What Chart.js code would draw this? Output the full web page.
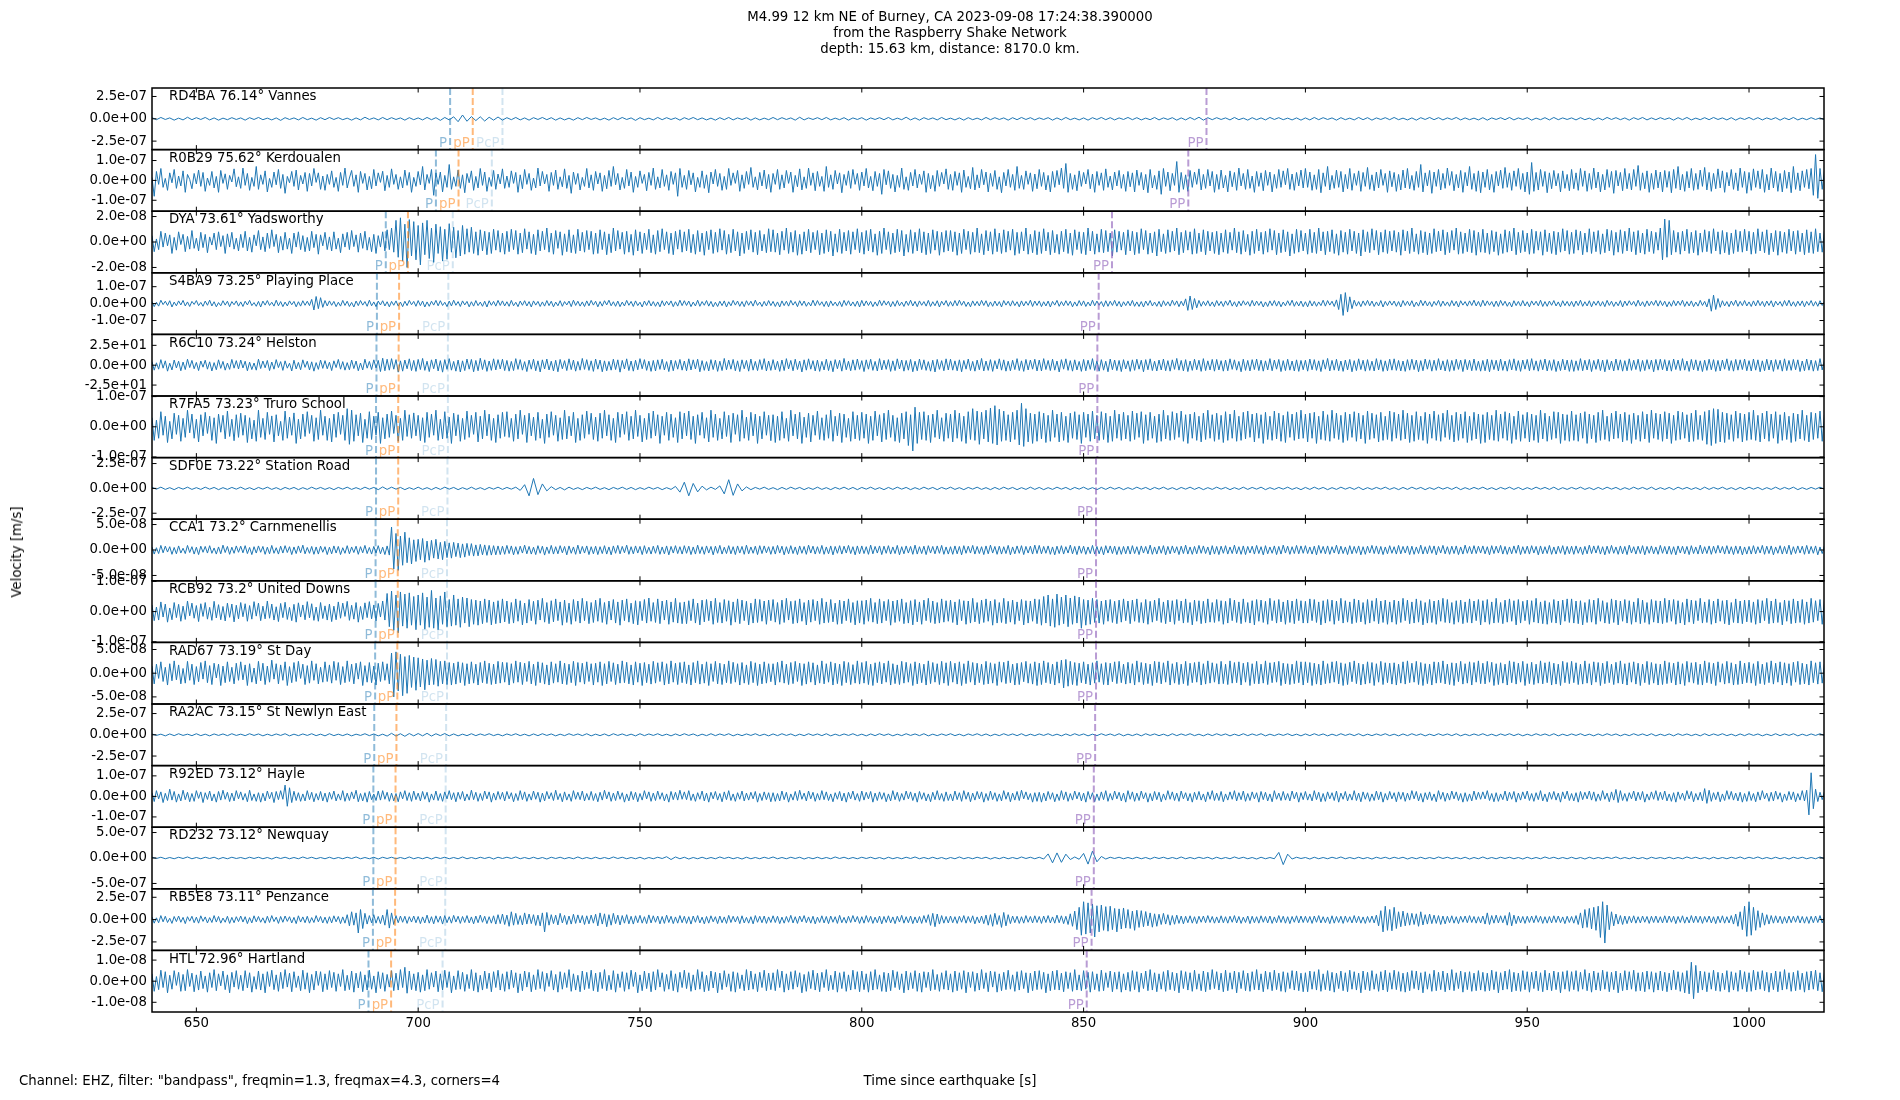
<!DOCTYPE html>
<html>
<head>
<meta charset="utf-8">
<script src="https://cdn.jsdelivr.net/npm/chart.js@4.4.0/dist/chart.umd.min.js"></script>
<style>
  body { margin: 0; background: #fff; }
  #wrap { position: relative; width: 1900px; height: 1100px; font-family: "DejaVu Sans", sans-serif; font-size: 13.3px; color: #000; }
  #wrap canvas { position: absolute; left: 0; top: 0; }
  .txt { position: absolute; line-height: 16px; white-space: nowrap; }
</style>
</head>
<body>
<div id="wrap">
  <canvas id="seis" width="1900" height="1100"></canvas>
  <div class="txt" style="left:0;width:1900px;top:9px;text-align:center;">M4.99 12 km NE of Burney, CA 2023-09-08 17:24:38.390000<br>from the Raspberry Shake Network<br>depth: 15.63 km, distance: 8170.0 km.</div>
  <div class="txt" style="left:19px;top:1073px;">Channel: EHZ, filter: "bandpass", freqmin=1.3, freqmax=4.3, corners=4</div>
  <div class="txt" style="left:0;width:1900px;top:1073px;text-align:center;">Time since earthquake [s]</div>
  <div class="txt" style="left:17px;top:552px;transform:translate(-50%,-50%) rotate(-90deg);">Velocity [m/s]</div>
</div>
<script>
// stations, top to bottom
const STATIONS = [
  "RD4BA 76.14° Vannes", "R0B29 75.62° Kerdoualen", "DYA 73.61° Yadsworthy",
  "S4BA9 73.25° Playing Place", "R6C10 73.24° Helston", "R7FA5 73.23° Truro School",
  "SDF0E 73.22° Station Road", "CCA1 73.2° Carnmenellis", "RCB92 73.2° United Downs",
  "RAD67 73.19° St Day", "RA2AC 73.15° St Newlyn East", "R92ED 73.12° Hayle",
  "RD232 73.12° Newquay", "RB5E8 73.11° Penzance", "HTL 72.96° Hartland"
];
// upper y tick label per panel (lower one is the negative)
const TICK_TOP = ["2.5e-07", "1.0e-07", "2.0e-08", "1.0e-07", "2.5e+01", "1.0e-07", "2.5e-07",
  "5.0e-08", "1.0e-07", "5.0e-08", "2.5e-07", "1.0e-07", "5.0e-07", "2.5e-07", "1.0e-08"];
// y half range, in units of the tick value
const Y_LIMIT = [1.38, 1.55, 1.21, 1.82, 1.55, 1.02, 1.24, 1.21, 1.02, 1.30, 1.45, 1.50, 1.21, 1.38, 1.46];
const X_TICKS = [650, 700, 750, 800, 850, 900, 950, 1000];

// arrival times [s]
const P_TIME   = [707.2, 704.0, 692.7, 690.7, 690.6, 690.5, 690.5, 690.4, 690.4, 690.3, 690.1, 689.9, 689.9, 689.8, 688.8];
const pP_TIME  = [712.3, 709.1, 697.7, 695.7, 695.6, 695.5, 695.5, 695.4, 695.4, 695.3, 695.1, 694.9, 694.9, 694.8, 693.9];
const PcP_TIME = [719.0, 716.6, 707.8, 706.8, 706.7, 706.7, 706.6, 706.5, 706.5, 706.5, 706.3, 706.2, 706.2, 706.1, 705.5];
const PP_TIME  = [877.7, 873.6, 856.4, 853.4, 853.1, 853.1, 852.8, 852.8, 852.8, 852.8, 852.6, 852.3, 852.3, 851.8, 850.7];

// traces start at T_START, sample spacing per trace in seconds,
// values in percent of the panel tick value
const T_START = 640;
const TRACE_STEP = [1, 0.5, 0.5, 0.5, 0.5, 0.5, 1, 0.5, 0.5, 0.5, 1, 0.5, 1, 0.5, 0.5];

const traceRD4BA = [
5,-4,6,-3,4,-6,3,-5,7,-4,5,-3,6,-5,4,-6,3,-4,5,-3,
4,-6,5,-3,6,-4,3,-5,4,-7,5,-3,4,-5,6,-4,3,-6,5,-4,
6,-3,5,-4,3,-6,4,-5,7,-3,4,-5,6,-4,5,-3,4,-6,5,-4,
4,-5,6,-4,5,-7,6,-5,9,-13,17,-11,10,-8,9,-10,7,-6,8,-6,
5,-4,6,-5,4,-6,5,-3,6,-4,5,-6,4,-5,3,-6,5,-4,6,-3,
4,-5,3,-6,5,-4,6,-3,4,-7,5,-4,3,-5,6,-4,5,-3,4,-6,
5,-3,6,-4,4,-5,3,-6,5,-4,6,-5,4,-3,5,-6,4,-5,3,-4,
6,-4,5,-3,4,-6,7,-5,4,-3,5,-4,6,-5,3,-4,5,-6,4,-3,
5,-6,4,-3,5,-4,6,-5,3,-4,7,-5,4,-6,5,-3,4,-5,6,-4,
3,-5,4,-6,5,-4,3,-5,6,-4,5,-3,4,-6,5,-4,6,-3,5,-5,
4,-3,5,-6,4,-5,6,-4,3,-5,4,-6,5,-3,6,-4,5,-5,4,-3,
6,-4,5,-5,3,-4,6,-5,4,-3,5,-6,4,-5,6,-4,7,-6,5,-4,
5,-3,4,-5,6,-4,3,-6,5,-4,4,-5,6,-3,5,-4,3,-5,4,-6,
4,-5,6,-4,5,-3,4,-6,5,-4,3,-5,6,-4,5,-6,4,-3,5,-4,
6,-4,3,-5,4,-6,5,-3,6,-4,5,-5,4,-3,6,-5,4,-4,3,-5,
5,-6,4,-3,5,-4,6,-5,4,-3,5,-6,3,-4,5,-5,6,-4,4,-3,
4,-5,5,-4,3,-6,4,-5,6,-3,5,-4,4,-6,5,-3,6,-5,4,-4,
5,-3,4,-6,5,-4,6,-5,3,-4,5,-4,6,-3,4,-5,5,-6,4,-3,
6,-4,5,-5,4,-3,5,-6,4,-4,6,-5,3,-4,5,-3,4,-5,6,-4
];
const traceR0B29 = [
15,-80,45,-20,60,-35,10,-50,38,-12,55,-40,22,-28,48,-60,30,5,-42,35,-18,52,-30,40,-55,12,-25,45,-38,20,-60,50,-15,33,-45,25,-8,58,-32,18,
-40,62,-25,35,-50,15,-30,70,-45,28,-20,48,-58,10,-35,42,-22,55,-40,30,-65,20,-12,45,-30,52,-48,25,-18,40,-55,35,-28,60,-10,38,-45,22,-50,30,
-20,48,-35,15,-55,40,-25,62,-38,12,50,-30,28,-60,45,-15,35,-48,20,-42,55,-28,38,-10,46,-52,25,-35,58,-20,30,-45,18,-38,52,-25,40,-60,15,-30,
45,-22,70,-48,30,-15,55,-75,38,-20,42,-58,25,-35,80,-45,18,-30,52,-40,28,-62,35,-12,48,-50,20,-38,60,-25,42,-55,15,-30,50,-45,32,-18,58,-40,
22,-35,48,-15,40,-60,28,-42,55,-20,35,-50,12,-38,62,-28,45,-18,30,-55,40,-25,52,-45,18,-32,58,-40,25,-65,42,-20,35,-48,15,-30,60,-38,28,-50,
45,-18,38,-55,25,-42,50,-30,70,-22,35,-48,15,-40,55,-28,42,-60,20,-35,48,-15,30,-52,40,-25,62,-45,18,-38,55,-30,28,-50,45,-20,38,-80,60,-35,
25,-45,50,-22,38,-58,15,-35,48,-40,28,-62,42,-18,55,-30,35,-50,20,-45,60,-25,38,-15,50,-55,28,-40,45,-20,65,-35,18,-48,40,-28,52,-42,30,-60,
35,-20,55,-45,28,-38,50,-15,42,-60,25,-32,58,-48,18,-40,62,-25,38,-52,45,-30,20,-55,70,-35,28,-45,50,-18,38,-62,30,-25,48,-40,55,-20,35,-50,
42,-28,60,-38,20,-52,45,-30,35,-70,55,-22,48,-40,30,-58,25,-35,62,-45,18,-50,40,-28,55,-38,32,-20,48,-60,35,-42,25,-55,50,-30,40,-18,58,-45,
30,-50,45,-25,38,-60,52,-35,20,-42,65,-48,28,-38,55,-22,42,-58,35,-30,50,-45,18,-62,40,-28,55,-35,30,-50,70,-40,25,-45,48,-20,38,-55,32,-42,
55,-30,40,-48,25,-58,45,-35,50,-22,62,-40,85,-60,35,-45,28,-52,48,-30,40,-18,55,-42,32,-60,45,-25,38,-50,58,-35,22,-48,42,-28,50,-40,30,-55,
45,-32,38,-58,52,-25,40,-48,30,-62,55,-38,25,-45,48,-70,60,-30,42,-52,35,-25,95,-60,40,-45,28,-55,50,-35,42,-20,58,-48,30,-40,55,-28,45,-60,
30,-45,52,-38,25,-58,48,-32,40,-50,62,-28,35,-45,55,-40,22,-60,45,-30,38,-52,50,-25,42,-58,30,-40,55,-35,48,-22,60,-45,32,-50,40,-28,52,-38,
60,-35,42,-50,28,-45,55,-62,38,-30,70,-48,25,-40,52,-35,45,-58,30,-42,60,-50,35,-25,48,-55,40,-30,65,-45,28,-52,42,-38,55,-25,35,-60,48,-32,
40,-55,30,-48,52,-38,60,-42,25,-50,45,-35,80,-58,38,-28,50,-65,42,-30,55,-48,35,-40,62,-25,45,-52,30,-38,50,-60,40,-28,70,-45,35,-55,48,-62,
42,-35,55,-48,30,-60,45,-28,52,-40,65,-35,38,-50,48,-30,60,-45,35,-58,42,-70,90,-55,40,-48,55,-30,45,-62,38,-42,50,-28,35,-58,48,-40,30,-52,
55,-42,38,-50,60,-30,48,-55,35,-45,62,-38,42,-58,30,-48,55,-35,45,-65,50,-28,40,-52,60,-42,35,-48,55,-30,75,-50,38,-42,48,-60,35,-45,52,-38,
42,-58,50,-35,45,-62,55,-40,70,-48,30,-55,45,-38,60,-50,35,-45,52,-30,65,-48,40,-55,35,-42,58,-38,48,-60,40,-28,55,-45,38,-52,62,-35,45,-65,
40,-50,58,-35,48,-42,55,-60,30,-48,62,-38,45,-55,35,-58,50,-40,42,-62,70,-45,38,-52,48,-35,55,-42,60,-75,130,-90,60,-45,50,-38,55,-48,40,-35
];
const traceDYA = [
25,-38,12,-30,42,-20,35,-15,28,-45,18,-32,40,-10,30,-38,22,-28,45,-25,15,-35,38,-22,30,-42,20,-12,35,-30,40,-18,25,-45,32,-20,38,-28,15,-35,
30,-22,42,-35,18,-40,28,-15,45,-30,20,-38,35,-25,48,-18,30,-42,22,-32,38,-28,15,-45,35,-20,40,-30,25,-38,18,-35,42,-22,30,-48,28,-15,38,-30,
20,-35,40,-28,15,-42,32,-20,38,-30,45,-18,28,-40,35,-25,42,-32,18,-38,30,-45,25,-20,40,-35,48,-30,55,-40,85,-60,95,-75,70,-100,88,-55,80,-70,
65,-90,75,-50,85,-65,55,-80,70,-45,60,-75,50,-68,72,-40,58,-62,45,-55,65,-48,52,-40,58,-45,40,-52,48,-35,42,-50,38,-45,50,-32,45,-40,35,-48,
42,-38,50,-30,45,-48,35,-42,52,-28,40,-45,30,-50,48,-35,42,-30,55,-40,35,-48,45,-25,40,-52,32,-38,48,-42,28,-45,50,-35,38,-40,45,-30,42,-48,
35,-45,48,-30,40,-50,32,-42,55,-35,45,-28,38,-48,42,-40,30,-52,48,-35,40,-45,35,-30,50,-42,28,-48,45,-38,52,-30,40,-45,35,-50,42,-28,48,-40,
40,-35,50,-42,30,-48,45,-38,35,-52,42,-30,48,-45,38,-40,52,-32,45,-48,30,-42,50,-35,40,-55,35,-45,42,-30,48,-40,38,-50,45,-35,30,-42,52,-38,
48,-40,35,-50,42,-32,55,-45,38,-40,45,-52,30,-48,40,-35,50,-42,38,-30,45,-50,35,-45,48,-38,42,-55,32,-40,50,-45,38,-35,45,-48,40,-30,52,-42,
38,-48,45,-35,50,-40,32,-52,42,-45,55,-30,40,-48,35,-42,50,-38,45,-55,30,-40,48,-45,38,-35,52,-42,40,-50,35,-45,48,-32,42,-52,38,-40,45,-35,
45,-38,40,-52,35,-45,50,-30,42,-48,38,-40,55,-42,32,-50,45,-35,40,-48,52,-38,35,-45,48,-40,42,-32,50,-52,38,-45,40,-35,55,-48,30,-42,45,-50,
40,-45,52,-35,38,-50,45,-42,30,-48,42,-38,50,-45,35,-52,48,-30,40,-45,38,-50,55,-35,42,-48,32,-40,50,-42,45,-38,35,-55,48,-40,42,-32,38,-50,
48,-35,42,-50,38,-45,52,-30,45,-48,35,-42,40,-55,50,-38,32,-45,48,-40,42,-35,55,-50,38,-42,45,-32,40,-48,52,-45,35,-38,48,-50,42,-35,38,-45,
42,-50,35,-40,48,-45,38,-32,55,-42,40,-48,45,-38,30,-52,42,-45,50,-35,38,-48,42,-40,52,-32,45,-50,35,-42,48,-38,40,-55,32,-45,50,-40,45,-35,
35,-48,50,-42,38,-45,55,-35,40,-50,42,-38,48,-45,32,-52,45,-40,38,-48,50,-35,42,-45,35,-55,48,-38,40,-42,52,-32,45,-50,38,-40,48,-45,42,-35,
45,-40,38,-52,48,-35,42,-45,55,-38,32,-48,45,-42,40,-50,35,-45,52,-38,42,-35,48,-50,38,-42,45,-32,55,-48,40,-45,35,-38,50,-42,45,-52,38,-40,
50,-42,35,-48,45,-38,40,-52,32,-45,48,-40,42,-35,55,-50,38,-42,45,-38,35,-48,50,-45,42,-32,40,-52,48,-38,35,-45,42,-50,38,-40,52,-35,45,-48,
38,-45,48,-32,42,-50,35,-40,52,-45,40,-38,45,-48,32,-42,50,-35,45,-52,38,-40,48,-45,42,-35,55,-38,40,-50,45,-42,35,-48,50,-38,42,-45,38,-32,
55,-70,90,-60,85,-50,45,-40,38,-48,42,-35,50,-45,38,-42,45,-52,35,-40,48,-38,42,-45,52,-35,40,-48,45,-42,38,-50,35,-45,48,-38,42,-40,50,-35,
42,-48,38,-45,52,-35,40,-42,48,-50,35,-38,45,-52,42,-40,38,-45,50,-35,42,-48,45,-38,35,-50,48,-42,40,-45,52,-38,35,-40,45,-48,42,-35,38,-45
];
const traceS4BA9 = [
12,-18,8,-15,20,-6,14,-11,17,-20,9,-13,16,-8,19,-14,10,-17,13,-5,18,-12,7,-16,15,-10,20,-14,11,-19,6,-13,17,-9,14,-18,12,-7,16,-15,
10,-17,14,-8,19,-12,6,-16,13,-20,15,-9,18,-11,8,-15,20,-13,12,-18,9,-14,16,-7,13,-19,11,-15,17,-10,14,-12,25,-38,42,-30,35,-22,18,-14,
16,-10,13,-18,8,-15,19,-11,14,-17,7,-20,15,-12,18,-9,12,-16,20,-13,10,-18,15,-8,17,-14,11,-19,13,-10,16,-15,9,-18,14,-12,19,-7,13,-16,
18,-12,15,-20,10,-16,14,-9,19,-13,17,-11,8,-18,15,-14,20,-10,12,-17,16,-8,13,-19,11,-15,18,-12,9,-16,14,-20,17,-10,13,-15,19,-11,16,-14,
11,-16,19,-13,8,-18,15,-10,17,-14,12,-20,16,-9,13,-17,10,-15,18,-12,14,-19,9,-13,17,-16,12,-8,15,-18,20,-11,14,-15,10,-17,16,-13,19,-9,
14,-19,12,-15,17,-8,20,-13,11,-16,15,-18,9,-14,19,-10,13,-17,16,-12,8,-20,15,-11,18,-14,12,-16,10,-19,17,-13,14,-9,16,-18,11,-15,20,-12,
17,-11,15,-18,9,-14,20,-16,12,-10,18,-15,13,-19,8,-17,14,-12,16,-20,11,-13,19,-9,15,-16,12,-18,17,-10,14,-15,20,-11,9,-17,13,-14,18,-12,
13,-17,10,-20,16,-12,14,-15,19,-9,12,-18,17,-11,15,-16,8,-14,20,-13,18,-10,11,-17,14,-19,16,-12,9,-15,13,-18,19,-11,17,-14,10,-16,15,-20,
19,-14,16,-11,13,-18,10,-15,20,-12,17,-9,14,-19,12,-16,18,-13,9,-17,15,-11,20,-14,13,-18,16,-10,12,-15,19,-17,11,-13,17,-20,14,-9,18,-16,
12,-15,18,-13,20,-10,14,-17,9,-19,16,-12,13,-14,19,-11,17,-18,10,-16,15,-13,12,-20,18,-9,14,-15,17,-12,11,-19,16,-14,13,-10,20,-17,15,-11,
16,-18,11,-14,15,-20,13,-9,19,-16,12,-13,17,-11,14,-19,10,-15,18,-12,16,-17,9,-14,20,-13,15,-10,12,-18,17,-16,14,-11,19,-15,13,-20,11,-12,
14,-13,19,-16,10,-17,12,-20,15,-11,18,-14,9,-16,13,-19,17,-12,11,-15,20,-10,16,-18,14,-13,28,-40,45,-35,30,-25,19,-16,13,-12,17,-15,10,-18,
18,-12,13,-17,16,-10,20,-15,11,-19,14,-13,17,-9,12,-16,19,-14,15,-11,13,-20,10,-17,16,-12,18,-15,14,-19,9,-13,17,-11,20,-16,12,-14,15,-18,
11,-19,17,-14,13,-16,10,-12,20,-15,18,-9,14,-17,22,-35,55,-70,65,-50,40,-30,20,-15,12,-18,16,-11,19,-13,15,-17,10,-14,18,-20,13,-12,16,-9,
15,-16,12,-20,18,-11,14,-13,17,-19,9,-15,20,-12,16,-14,11,-18,13,-10,19,-17,15,-12,10,-16,18,-13,14,-20,17,-9,12,-15,16,-11,20,-14,13,-18,
20,-13,16,-10,12,-18,15,-17,19,-11,14,-16,9,-20,17,-12,13,-15,18,-14,11,-19,16,-9,14,-13,20,-17,12,-16,15,-10,18,-14,10,-19,17,-12,13,-15,
13,-18,15,-12,20,-16,11,-14,17,-19,13,-10,16,-15,12,-18,19,-11,14,-17,10,-13,18,-20,15,-12,17,-9,13,-16,20,-14,11,-18,16,-13,14,-10,19,-15,
17,-12,14,-19,11,-16,18,-13,15,-10,20,-17,12,-14,16,-18,9,-15,19,-11,13,-20,28,-45,50,-35,30,-22,17,-14,12,-18,15,-11,20,-16,13,-12,18,-14,
10,-17,16,-14,19,-12,13,-18,15,-11,17,-20,14,-9,12,-16,18,-13,20,-15,11,-17,14,-12,16,-19,13,-10,18,-15,12,-16,17,-11,14,-20,19,-13,15,-12
];
const traceR6C10 = [
18,-25,12,-20,28,-15,22,-30,10,-24,26,-14,20,-28,16,-22,30,-12,24,-18,14,-27,21,-10,25,-20,17,-29,13,-23,27,-16,19,-25,11,-21,29,-15,23,-19,
26,-14,20,-28,15,-22,11,-25,30,-17,21,-13,24,-27,16,-20,28,-12,18,-26,22,-15,10,-29,25,-19,14,-23,27,-11,20,-24,17,-30,13,-21,26,-16,23,-18,
15,-27,22,-12,29,-20,18,-25,13,-23,26,-17,21,-28,11,-24,30,-15,19,-22,27,-14,24,-32,35,-28,30,-25,33,-20,28,-35,22,-30,26,-18,32,-27,24,-31,
29,-22,34,-26,20,-32,27,-18,31,-29,23,-35,28,-21,33,-25,19,-30,26,-34,22,-27,31,-20,29,-33,24,-28,35,-22,27,-31,21,-26,32,-24,28,-19,30,-27,
24,-30,19,-27,33,-21,28,-25,18,-32,26,-20,30,-28,22,-34,27,-19,31,-24,20,-29,25,-33,29,-18,23,-27,32,-22,26,-30,19,-25,34,-21,28,-26,22,-31,
31,-20,26,-33,22,-28,19,-25,30,-22,27,-35,24,-19,32,-27,21,-30,25,-23,33,-18,28,-26,20,-31,24,-29,27,-21,30,-24,18,-32,26,-28,23,-20,29,-25,
21,-28,32,-24,27,-19,30,-33,23,-26,18,-29,28,-22,25,-31,20,-27,34,-23,26,-20,29,-28,22,-32,27,-18,24,-30,31,-25,19,-27,28,-22,33,-29,21,-26,
28,-23,20,-31,26,-27,33,-19,24,-28,30,-22,21,-34,27,-25,32,-20,23,-29,26,-31,19,-24,30,-27,22,-33,28,-18,25,-30,34,-23,20,-28,27,-25,31,-21,
23,-32,27,-20,30,-26,19,-29,33,-24,25,-21,28,-31,22,-27,32,-19,26,-30,24,-25,29,-33,20,-28,31,-22,27,-26,18,-30,25,-34,29,-21,23,-28,32,-24,
30,-25,22,-28,27,-33,24,-20,31,-27,19,-30,26,-23,34,-29,21,-26,28,-31,23,-19,32,-25,27,-30,20,-28,25,-22,33,-27,22,-31,29,-24,26,-20,30,-29,
26,-29,33,-22,24,-27,30,-25,21,-34,28,-20,32,-26,23,-30,27,-24,19,-31,29,-28,25,-21,33,-26,22,-30,28,-25,20,-33,31,-23,26,-27,24,-32,28,-19,
22,-31,27,-26,30,-20,25,-33,28,-23,32,-27,20,-29,26,-24,31,-28,23,-30,27,-21,34,-25,24,-29,28,-32,21,-26,30,-23,25,-31,33,-27,22,-24,29,-30,
29,-24,23,-30,26,-28,32,-21,27,-25,19,-33,30,-26,24,-29,28,-22,31,-27,25,-30,22,-24,33,-28,26,-20,29,-32,23,-27,30,-25,21,-29,27,-31,24,-23,
25,-30,31,-23,28,-26,22,-32,27,-20,34,-29,24,-25,30,-28,21,-31,26,-24,29,-33,23,-27,32,-22,25,-30,28,-26,20,-29,33,-24,27,-31,22,-28,30,-25,
32,-26,24,-29,21,-31,28,-25,30,-22,26,-33,23,-28,31,-20,27,-30,25,-26,33,-24,22,-29,28,-31,24,-27,30,-21,26,-32,29,-23,25,-28,31,-26,20,-30,
24,-28,30,-33,27,-22,25,-29,31,-26,21,-30,28,-24,32,-27,23,-31,26,-20,29,-28,33,-25,22,-30,27,-23,31,-29,24,-26,28,-32,20,-27,30,-24,26,-31,
27,-31,22,-26,33,-28,25,-24,29,-32,24,-21,30,-27,26,-33,28,-23,21,-29,31,-25,27,-30,23,-28,32,-26,25,-22,30,-31,24,-27,28,-20,26,-33,29,-25,
30,-23,28,-29,24,-30,31,-22,26,-27,33,-25,21,-31,29,-24,27,-28,22,-32,25,-26,30,-23,28,-31,24,-29,26,-20,32,-27,23,-30,29,-25,27,-22,31,-28,
23,-29,31,-25,27,-33,22,-28,30,-24,26,-31,28,-21,25,-30,32,-27,24,-26,29,-23,27,-32,21,-28,31,-25,26,-30,23,-27,33,-24,28,-29,22,-31,26,-27
];
const traceR7FA5 = [
30,-45,22,-38,50,-28,35,-52,18,-40,45,-25,38,-48,28,-35,55,-20,42,-38,25,-50,40,-30,48,-22,35,-45,30,-55,42,-18,38,-40,52,-32,25,-46,40,-35,
45,-28,38,-52,30,-40,22,-48,55,-35,28,-42,48,-25,36,-50,40,-30,18,-45,52,-38,32,-28,46,-55,25,-40,42,-32,50,-22,38,-48,30,-42,55,-28,35,-45,
28,-50,42,-35,48,-25,38,-45,60,-58,55,-48,40,-30,45,-52,25,-38,50,-42,35,-28,48,-55,30,-40,42,-35,52,-22,38,-48,28,-45,55,-32,40,-38,46,-30,
38,-46,30,-52,48,-35,42,-28,55,-45,25,-40,50,-38,32,-55,45,-30,40,-48,28,-42,52,-35,38,-25,48,-50,35,-40,55,-30,42,-45,28,-52,40,-38,48,-32,
50,-35,28,-48,42,-40,55,-25,38,-52,45,-30,32,-45,48,-38,25,-55,42,-35,50,-28,38,-48,30,-42,55,-40,35,-30,48,-52,28,-45,40,-38,52,-25,45,-42,
32,-48,45,-38,55,-30,40,-45,28,-52,48,-35,42,-25,50,-45,35,-40,55,-32,38,-50,28,-42,45,-38,52,-30,40,-55,35,-28,48,-45,42,-35,30,-52,50,-40,
45,-30,52,-42,35,-55,40,-28,48,-38,30,-50,55,-35,42,-45,28,-40,50,-32,38,-52,45,-25,40,-48,55,-38,32,-45,48,-30,42,-55,35,-40,50,-28,38,-46,
40,-52,35,-45,50,-38,28,-48,55,-30,42,-40,48,-55,32,-35,45,-50,38,-28,52,-42,30,-45,40,-38,55,-48,35,-30,45,-52,42,-35,28,-48,50,-40,38,-45,
48,-38,42,-55,35,-45,52,-30,40,-50,45,-42,55,-35,38,-48,30,-52,45,-40,50,-62,40,-80,65,-55,48,-42,50,-45,38,-52,42,-35,55,-40,30,-48,45,-38,
42,-50,55,-38,45,-48,35,-55,50,-42,60,-45,52,-58,48,-40,55,-50,62,-55,70,-60,58,-48,52,-45,40,-50,48,-42,55,-60,78,-65,60,-50,45,-55,42,-48,
50,-40,45,-52,38,-48,55,-35,42,-50,48,-45,35,-52,45,-38,50,-42,40,-55,48,-35,42,-48,52,-40,38,-45,50,-42,45,-52,35,-48,55,-38,42,-45,48,-40,
38,-48,52,-42,45,-35,50,-55,40,-45,48,-38,35,-52,42,-48,55,-40,38,-45,50,-42,45,-35,52,-48,40,-55,42,-38,48,-45,35,-50,45,-42,55,-38,40,-48,
45,-42,38,-52,50,-45,42,-38,55,-48,35,-45,48,-40,52,-35,42,-50,45,-38,40,-55,48,-42,35,-45,52,-40,45,-48,38,-52,50,-35,42,-45,48,-40,55,-38,
42,-50,45,-38,48,-55,35,-42,52,-45,40,-48,55,-38,45,-42,38,-52,48,-45,42,-35,50,-48,45,-40,38,-55,52,-42,45,-38,40,-50,48,-45,35,-42,52,-48,
48,-38,42,-45,55,-40,45,-52,38,-48,50,-42,35,-45,48,-55,42,-38,52,-45,40,-48,45,-35,55,-42,38,-50,48,-45,42,-38,50,-52,35,-45,48,-40,42,-55,
40,-52,48,-42,38,-45,55,-48,42,-38,50,-45,45,-55,35,-42,52,-48,40,-38,48,-50,42,-45,38,-52,55,-40,45,-48,35,-42,50,-38,48,-55,42,-45,40,-48,
52,-45,40,-48,45,-38,50,-55,42,-40,38,-52,48,-45,55,-42,35,-48,45,-40,52,-38,42,-50,48,-45,40,-55,45,-42,38,-48,50,-40,42,-52,55,-38,45,-42,
42,-48,50,-40,45,-55,38,-45,52,-42,48,-38,40,-50,45,-48,55,-42,38,-45,50,-58,55,-62,60,-55,58,-50,48,-52,45,-42,40,-48,52,-38,45,-50,42,-45,
48,-42,55,-45,38,-50,45,-40,52,-48,42,-38,50,-55,40,-45,48,-42,35,-52,45,-48,42,-40,55,-45,38,-50,48,-42,45,-38,52,-48,40,-55,42,-45,50,-38
];
const traceSDF0E = [
4,-3,5,-4,3,-5,4,-3,5,-4,3,-4,5,-3,4,-5,3,-4,4,-3,
5,-4,3,-5,4,-3,5,-4,3,-5,4,-3,4,-5,3,-4,5,-3,4,-4,
3,-5,4,-3,5,-4,3,-4,5,-3,4,-5,6,-4,5,-3,4,-5,3,-4,
5,-4,3,-5,4,-4,5,-3,4,-5,3,-4,5,-4,3,-5,4,-3,5,-4,
4,-3,5,-8,15,-30,40,-25,18,-10,7,-5,4,-6,5,-4,3,-5,4,-3,
5,-4,3,-5,4,-3,5,-4,4,-5,3,-4,5,-3,4,-5,3,-4,8,-15,
25,-30,20,-14,9,-6,5,-4,10,-22,35,-28,18,-10,6,-5,4,-3,5,-4,
3,-5,4,-4,5,-3,4,-5,3,-4,5,-4,3,-5,4,-3,5,-4,4,-5,
4,-3,5,-4,3,-5,4,-4,5,-3,4,-5,3,-4,5,-3,4,-5,4,-3,
5,-4,3,-5,4,-3,5,-4,3,-5,4,-4,5,-3,4,-5,3,-4,5,-4,
4,-5,3,-4,5,-3,4,-5,4,-3,5,-4,3,-5,4,-4,5,-3,4,-5,
3,-4,5,-3,4,-5,4,-3,5,-4,3,-5,4,-3,5,-4,4,-5,3,-4,
5,-3,4,-5,3,-4,5,-4,4,-3,5,-5,3,-4,4,-3,5,-4,3,-5,
4,-4,5,-3,4,-5,3,-4,5,-3,4,-4,5,-5,3,-4,4,-3,5,-4,
3,-5,4,-4,5,-3,4,-5,3,-4,5,-3,4,-4,5,-5,3,-4,4,-3,
5,-4,3,-5,4,-3,5,-4,4,-5,3,-4,5,-3,4,-4,5,-5,3,-4,
4,-3,5,-4,3,-5,4,-4,5,-3,4,-5,3,-4,5,-3,4,-4,5,-5,
3,-4,4,-5,5,-3,4,-4,3,-5,5,-4,4,-3,5,-4,3,-5,4,-4,
5,-3,4,-5,3,-4,5,-4,4,-3,5,-5,3,-4,4,-3,5,-4,3,-5
];
const traceCCA1 = [
12,-16,9,-14,18,-11,15,-8,13,-17,10,-15,16,-12,7,-14,18,-10,13,-16,11,-18,15,-9,14,-12,17,-13,8,-16,12,-15,19,-10,14,-17,11,-13,16,-9,
15,-11,17,-14,10,-18,13,-12,16,-9,14,-17,11,-15,18,-13,9,-16,15,-12,17,-10,13,-18,12,-14,16,-11,19,-15,10,-13,14,-17,12,-16,15,-9,13,-18,
11,-15,16,-12,14,-18,9,-13,17,-15,12,-10,15,-17,13,-11,18,-14,10,-16,14,-12,17,-15,11,-18,16,-20,90,-75,65,-80,55,-60,70,-50,48,-55,40,-45,
42,-38,45,-48,35,-40,38,-32,42,-35,30,-38,34,-30,28,-32,30,-26,27,-30,24,-28,26,-22,25,-24,20,-23,22,-19,20,-21,18,-20,17,-19,16,-18,15,-17,
18,-14,16,-19,13,-17,15,-12,19,-15,14,-16,11,-18,17,-13,15,-20,12,-14,18,-16,13,-15,17,-11,14,-19,16,-13,12,-17,19,-15,14,-12,16,-18,13,-15,
15,-18,13,-14,17,-16,12,-19,16,-13,18,-15,14,-11,19,-17,13,-15,16,-12,14,-18,17,-14,11,-16,15,-13,18,-17,12,-15,16,-19,14,-12,17,-14,13,-16,
17,-13,15,-18,12,-16,19,-14,13,-17,16,-12,14,-19,15,-13,18,-16,11,-14,17,-15,13,-18,16,-12,14,-17,19,-15,12,-13,15,-18,17,-14,16,-11,13,-17,
14,-16,18,-12,15,-19,13,-15,17,-14,12,-18,16,-13,14,-17,19,-12,15,-16,13,-14,18,-17,12,-15,16,-19,14,-13,17,-16,15,-12,18,-14,13,-19,16,-15,
16,-14,13,-17,19,-15,14,-12,16,-18,15,-13,17,-16,12,-14,18,-19,13,-15,16,-12,14,-17,19,-16,13,-14,15,-18,17,-12,14,-15,16,-13,18,-17,12,-16,
13,-17,16,-15,14,-19,17,-13,15,-12,18,-16,14,-14,13,-18,16,-15,19,-12,14,-17,15,-16,13,-14,18,-19,12,-15,16,-13,17,-18,14,-12,15,-16,19,-14,
18,-15,14,-13,16,-17,12,-19,15,-14,17,-16,13,-12,19,-15,14,-18,16,-13,15,-17,12,-14,18,-16,14,-15,13,-19,17,-12,16,-14,15,-18,13,-17,14,-15,
15,-16,17,-14,13,-18,16,-12,14,-15,19,-17,12,-16,15,-13,17,-19,14,-15,16,-12,13,-18,15,-14,19,-16,12,-17,14,-15,18,-13,16,-14,12,-19,17,-16,
14,-18,15,-13,17,-16,12,-14,19,-15,13,-17,16,-18,14,-12,15,-16,18,-14,13,-19,17,-15,12,-13,16,-18,14,-16,19,-12,15,-17,13,-14,18,-15,16,-13,
17,-14,12,-16,15,-19,18,-13,14,-15,16,-17,13,-12,19,-16,15,-14,12,-18,17,-15,14,-13,16,-19,13,-17,15,-12,18,-14,16,-16,14,-18,12,-15,17,-13,
13,-16,18,-15,14,-12,16,-18,15,-17,12,-14,19,-16,13,-15,17,-13,16,-19,14,-12,18,-15,13,-17,15,-14,16,-18,12,-16,19,-13,14,-15,17,-14,15,-12,
16,-15,13,-19,17,-14,15,-12,18,-16,14,-17,12,-15,16,-13,19,-18,13,-14,15,-16,17,-12,14,-19,16,-15,13,-14,18,-17,12,-16,15,-13,17,-18,14,-15,
15,-17,16,-13,12,-18,14,-15,19,-14,16,-12,17,-16,13,-19,15,-14,18,-13,12,-17,16,-15,14,-18,19,-12,13,-16,15,-14,17,-19,14,-13,16,-15,12,-17,
18,-13,14,-16,15,-17,13,-19,16,-12,15,-15,14,-18,17,-14,12,-16,19,-15,13,-14,16,-17,15,-13,18,-12,14,-16,17,-15,13,-18,16,-14,15,-19,12,-16,
14,-16,17,-15,13,-12,18,-17,15,-14,16,-19,12,-13,17,-16,14,-15,19,-18,13,-14,16,-12,15,-17,18,-15,14,-13,16,-19,12,-14,17,-16,15,-13,18,-15
];
const traceRCB92 = [
22,-30,15,-28,32,-18,25,-35,12,-27,30,-20,24,-32,18,-26,35,-14,28,-22,20,-33,26,-16,30,-25,14,-29,34,-21,23,-27,17,-31,28,-19,25,-34,21,-24,
30,-17,26,-32,20,-25,33,-15,28,-30,18,-24,35,-22,25,-28,16,-33,27,-20,31,-26,14,-30,24,-35,29,-18,22,-27,33,-21,26,-29,15,-32,30,-23,19,-28,
25,-33,18,-27,32,-22,28,-16,34,-29,21,-25,30,-35,17,-26,29,-20,33,-24,22,-31,27,-18,35,-28,60,-50,68,-62,55,-70,65,-48,58,-55,62,-45,50,-60,
55,-45,62,-58,48,-52,70,-55,45,-60,52,-42,65,-50,40,-48,55,-45,42,-52,48,-38,45,-50,40,-42,38,-45,35,-40,42,-36,38,-44,32,-40,36,-38,42,-34,
35,-40,30,-38,42,-32,36,-44,28,-38,40,-30,34,-42,38,-28,44,-35,30,-40,36,-34,42,-30,32,-45,38,-36,28,-42,40,-32,35,-38,44,-30,34,-40,30,-36,
38,-32,44,-36,30,-42,35,-28,40,-38,32,-45,38,-30,42,-35,28,-40,36,-44,34,-30,40,-38,45,-32,30,-36,42,-40,35,-28,38,-42,32,-35,44,-38,30,-40,
32,-40,36,-30,42,-38,28,-44,38,-34,40,-30,35,-42,44,-36,30,-38,40,-32,36,-45,32,-35,42,-40,38,-30,34,-44,28,-38,42,-36,40,-32,35,-42,38,-30,
40,-35,30,-42,38,-36,44,-28,34,-40,36,-38,42,-32,30,-44,38,-35,40,-30,35,-42,44,-38,32,-36,40,-34,28,-42,38,-40,35,-30,42,-36,30,-44,36,-38,
36,-42,38,-32,44,-35,30,-40,42,-38,34,-30,40,-45,35,-36,38,-32,42,-40,30,-38,36,-44,40,-34,32,-42,38,-30,44,-36,35,-40,30,-38,42,-35,36,-32,
38,-36,32,-44,40,-30,36,-42,35,-38,44,-34,30,-40,38,-36,42,-32,35,-45,40,-38,30,-36,44,-40,34,-35,38,-42,32,-30,40,-44,36,-38,35,-32,42,-40,
40,-45,50,-38,55,-48,42,-52,58,-45,48,-40,55,-50,45,-42,52,-38,48,-55,40,-45,38,-42,44,-36,40,-38,35,-42,38,-32,40,-36,34,-40,38,-35,42,-30,
35,-40,38,-32,42,-36,30,-38,40,-42,34,-35,38,-30,44,-36,32,-40,38,-34,36,-42,40,-30,35,-38,42,-36,30,-44,38,-32,36,-40,34,-38,42,-35,30,-36,
40,-32,36,-42,34,-38,44,-30,38,-36,32,-40,42,-35,30,-38,36,-44,40,-32,38,-36,34,-42,44,-30,36,-38,40,-34,32,-42,38,-36,35,-40,42,-30,36,-38,
34,-38,42,-30,40,-36,32,-44,36,-38,40,-32,38,-42,35,-30,44,-38,36,-35,32,-40,42,-36,38,-34,30,-42,40,-38,36,-32,44,-40,35,-36,38,-42,32,-35,
38,-42,35,-36,44,-30,38,-40,32,-38,42,-35,36,-44,30,-38,40,-36,35,-42,38,-32,44,-36,40,-38,30,-42,36,-35,38,-40,32,-36,42,-38,35,-30,40,-44,
36,-35,40,-42,32,-38,44,-36,30,-40,38,-35,42,-32,36,-44,40,-38,34,-30,38,-42,36,-35,44,-38,32,-40,36,-42,30,-36,40,-38,35,-44,38,-32,42,-36,
42,-38,35,-40,36,-44,30,-36,40,-35,38,-42,44,-32,36,-38,30,-40,42,-36,38,-44,35,-32,40,-38,36,-42,32,-35,44,-40,38,-36,30,-42,40,-35,36,-38,
35,-40,44,-36,38,-32,40,-42,36,-38,30,-44,42,-35,38,-40,36,-30,44,-38,32,-36,40,-42,35,-38,42,-32,36,-40,38,-44,30,-36,42,-38,35,-40,38,-34,
38,-36,32,-42,40,-38,36,-30,44,-40,35,-38,42,-36,30,-44,38,-32,36,-40,42,-38,35,-36,40,-42,32,-38,44,-35,36,-30,40,-42,38,-36,32,-44,36,-38
];
const traceRAD67 = [
30,-45,38,-22,48,-35,25,-50,40,-32,52,-28,35,-45,20,-42,50,-30,38,-48,28,-36,45,-25,52,-40,32,-48,42,-20,38,-52,30,-40,48,-35,25,-45,42,-30,
48,-28,35,-52,40,-38,22,-45,50,-32,42,-48,30,-38,55,-25,40,-45,35,-30,48,-52,28,-40,45,-35,50,-22,38,-48,32,-42,52,-30,40,-45,25,-38,48,-35,
35,-42,50,-30,45,-48,28,-40,52,-35,38,-45,42,-25,48,-52,32,-38,45,-40,30,-50,42,-35,48,-30,40,-45,85,-100,90,-75,80,-95,70,-85,75,-60,68,-72,
65,-58,60,-70,55,-50,62,-48,58,-55,50,-45,52,-48,45,-50,42,-46,48,-40,44,-52,40,-45,48,-42,38,-50,45,-40,52,-44,42,-48,38,-45,50,-42,46,-38,
45,-50,40,-42,52,-38,46,-48,42,-35,50,-45,38,-52,48,-40,44,-46,35,-50,48,-42,40,-38,52,-45,42,-48,38,-40,50,-52,45,-38,42,-46,48,-35,40,-50,
42,-38,48,-52,40,-45,50,-35,44,-48,38,-42,52,-40,46,-45,35,-50,48,-38,42,-52,45,-40,38,-46,50,-42,44,-35,48,-50,40,-45,52,-38,42,-48,45,-40,
48,-44,35,-50,45,-40,52,-46,38,-42,48,-52,40,-35,50,-45,42,-48,38,-40,52,-44,46,-38,40,-50,45,-42,35,-48,50,-40,44,-52,38,-45,48,-42,40,-36,
40,-50,46,-38,52,-42,38,-48,45,-44,50,-35,42,-52,40,-46,48,-38,44,-50,35,-42,52,-45,40,-38,48,-50,42,-44,38,-52,50,-40,45,-48,36,-42,52,-46,
45,-42,50,-48,38,-52,44,-40,48,-45,42,-38,52,-50,40,-44,35,-48,50,-42,46,-38,40,-52,48,-45,42,-40,38,-50,52,-44,45,-38,40,-48,50,-42,44,-52,
50,-38,42,-46,48,-52,40,-44,52,-38,45,-50,42,-40,38,-48,50,-45,44,-42,40,-52,48,-38,46,-44,52,-40,38,-50,42,-48,45,-36,50,-42,40,-46,48,-52,
42,-48,52,-40,45,-44,38,-50,48,-42,55,-62,58,-55,50,-48,45,-52,42,-40,48,-45,38,-50,44,-42,52,-38,40,-48,45,-50,42,-36,48,-44,50,-40,38,-46,
46,-42,40,-50,52,-38,45,-48,42,-44,38,-52,50,-40,48,-45,44,-38,52,-50,40,-42,46,-48,38,-44,50,-52,42,-40,45,-38,48,-50,40,-46,52,-42,44,-38,
40,-46,50,-44,38,-48,52,-42,45,-40,48,-50,42,-38,46,-52,40,-44,50,-45,38,-42,52,-48,44,-40,46,-38,50,-52,42,-45,40,-48,38,-44,52,-40,48,-50,
48,-40,45,-52,42,-46,38,-50,52,-44,40,-42,48,-38,50,-45,44,-52,40,-48,46,-36,52,-44,42,-50,38,-46,48,-42,45,-52,40,-38,50,-48,44,-40,42,-46,
44,-50,38,-42,48,-46,52,-40,42,-38,50,-48,45,-52,40,-44,38,-50,48,-42,46,-40,52,-45,38,-48,44,-52,42,-36,50,-46,40,-42,48,-50,45,-38,52,-44,
42,-45,50,-38,46,-52,40,-48,44,-42,38,-50,52,-40,48,-46,42,-38,50,-52,40,-44,46,-48,38,-42,52,-45,44,-40,48,-50,42,-46,38,-52,50,-40,45,-44,
50,-40,44,-48,38,-46,52,-42,40,-50,48,-38,45,-52,42,-44,50,-40,38,-48,46,-42,52,-45,40,-50,44,-38,48,-46,42,-52,38,-40,50,-48,45,-42,40,-50,
38,-48,52,-44,45,-40,42,-50,48,-46,40,-52,50,-38,44,-42,46,-48,38,-50,52,-40,45,-44,42,-52,48,-38,40,-46,50,-42,44,-50,38,-48,52,-45,42,-40,
46,-42,40,-52,50,-44,38,-48,45,-40,52,-46,42,-38,48,-50,44,-42,40,-52,46,-38,50,-48,42,-45,38,-50,52,-40,44,-46,48,-42,40,-38,50,-52,45,-44
];
const traceRA2AC = [
4,-3,3,-5,4,-4,5,-3,3,-4,5,-4,3,-5,4,-3,4,-4,5,-3,
3,-4,5,-3,4,-5,3,-4,4,-3,5,-5,3,-4,4,-3,5,-4,3,-5,
5,-4,3,-4,4,-5,3,-3,5,-4,4,-5,3,-6,7,-6,5,-7,6,-5,
6,-5,7,-6,5,-4,6,-5,4,-5,3,-4,5,-4,4,-3,5,-4,3,-5,
4,-3,5,-4,3,-5,4,-4,5,-3,4,-5,3,-4,5,-3,4,-4,5,-5,
3,-4,4,-5,5,-3,4,-4,3,-5,5,-4,4,-3,5,-4,3,-5,4,-4,
5,-3,4,-5,3,-4,5,-4,4,-3,5,-5,3,-4,4,-3,5,-4,3,-5,
4,-4,5,-3,4,-5,3,-4,5,-3,4,-4,5,-5,3,-4,4,-3,5,-4,
3,-5,4,-4,5,-3,4,-5,3,-4,5,-3,4,-4,5,-5,3,-4,4,-3,
5,-4,3,-5,4,-3,5,-4,4,-5,3,-4,5,-3,4,-4,5,-5,3,-4,
4,-3,5,-4,3,-5,4,-4,5,-3,4,-5,3,-4,5,-3,4,-4,5,-5,
3,-4,4,-5,5,-3,4,-4,3,-5,5,-4,4,-3,5,-4,3,-5,4,-4,
5,-3,4,-5,3,-4,5,-4,4,-3,5,-5,3,-4,4,-3,5,-4,3,-5,
4,-4,5,-3,4,-5,3,-4,5,-3,4,-4,5,-5,3,-4,4,-3,5,-4,
3,-5,4,-4,5,-3,4,-5,3,-4,5,-3,4,-4,5,-5,3,-4,4,-3,
5,-4,3,-5,4,-3,5,-4,4,-5,3,-4,5,-3,4,-4,5,-5,3,-4,
4,-3,5,-4,3,-5,4,-4,5,-3,4,-5,3,-4,5,-3,4,-4,5,-5,
3,-4,4,-5,5,-3,4,-4,3,-5,5,-4,4,-3,5,-4,3,-5,4,-4,
5,-3,4,-5,3,-4,5,-4,4,-3,5,-5,3,-4,4,-3,5,-4,3,-5
];
const traceR92ED = [
18,-25,28,-12,22,-30,15,-20,35,-18,24,-28,12,-22,30,-16,20,-26,14,-24,28,-10,22,-30,18,-15,26,-22,12,-28,24,-18,30,-14,20,-25,16,-22,28,-12,
22,-18,14,-26,30,-20,12,-24,18,-28,15,-22,26,-12,20,-30,24,-16,28,-14,55,-48,42,-30,25,-20,18,-24,12,-22,28,-16,20,-26,14,-18,24,-22,16,-28,
20,-14,26,-22,12,-18,28,-24,16,-20,22,-12,30,-26,14,-22,18,-28,24,-16,12,-20,26,-18,28,-14,20,-24,16,-22,14,-26,22,-12,28,-20,18,-24,26,-16,
16,-22,24,-14,20,-28,12,-18,26,-20,14,-24,22,-12,28,-16,18,-26,20,-14,24,-22,12,-18,30,-16,20,-24,14,-20,26,-12,22,-28,16,-18,24,-14,20,-22,
24,-12,18,-26,14,-20,28,-16,22,-24,12,-18,26,-14,20,-28,16,-22,24,-12,18,-20,30,-16,14,-26,22,-18,12,-24,28,-14,20,-16,26,-22,14,-18,24,-20,
14,-26,20,-18,30,-12,22,-24,16,-20,26,-14,18,-28,12,-22,24,-16,20,-26,14,-18,28,-12,22,-24,16,-20,26,-14,18,-22,12,-28,24,-16,20,-18,30,-14,
22,-16,28,-20,12,-24,18,-14,26,-22,16,-28,20,-12,24,-18,14,-26,22,-16,28,-20,12,-24,18,-14,26,-22,16,-18,20,-12,24,-28,14,-20,22,-16,18,-26,
18,-24,14,-22,26,-16,20,-28,12,-18,24,-20,30,-14,16,-22,26,-12,20,-24,14,-18,28,-16,22,-20,12,-26,18,-14,24,-22,16,-28,20,-12,26,-18,14,-24,
26,-18,20,-12,24,-28,16,-20,22,-14,18,-26,12,-22,28,-16,20,-24,14,-18,26,-12,22,-20,16,-28,24,-14,18,-22,12,-26,20,-16,28,-18,14,-24,22,-20,
12,-22,26,-16,18,-24,28,-14,20,-26,16,-18,24,-12,22,-28,14,-20,26,-16,18,-24,12,-22,28,-14,20,-26,16,-18,24,-20,30,-12,22,-16,14,-28,18,-24,
20,-28,16,-22,24,-14,18,-26,12,-20,28,-16,22,-24,14,-18,26,-12,20,-22,16,-28,24,-14,18,-26,12,-20,22,-16,28,-24,14,-18,26,-12,20,-22,16,-28,
28,-14,22,-24,16,-20,26,-12,18,-28,14,-22,24,-16,20,-26,12,-18,28,-14,22,-20,16,-24,26,-12,18,-22,14,-28,20,-16,24,-18,12,-26,22,-14,28,-20,
16,-20,24,-26,12,-18,22,-14,28,-22,18,-16,26,-24,14,-20,22,-12,18,-28,24,-16,20,-22,12,-26,28,-14,16,-20,24,-18,14,-22,26,-12,20,-28,18,-16,
24,-18,12,-22,28,-16,20,-26,14,-24,22,-12,18,-20,26,-28,16,-14,24,-22,12,-18,28,-20,16,-26,22,-14,18,-24,12,-20,26,-16,22,-28,14,-18,24,-12,
18,-26,22,-14,20,-24,16,-18,28,-12,24,-22,14,-28,18,-16,22,-20,12,-26,28,-14,20,-24,16,-18,26,-12,22,-20,14,-28,18,-24,12,-22,26,-16,20,-14,
22,-12,28,-20,14,-26,18,-24,12,-16,26,-22,20,-14,24,-28,16,-18,22,-12,26,-20,14,-24,18,-16,28,-22,12,-26,20,-14,24,-18,16,-28,22,-12,26,-20,
14,-22,18,-28,24,-16,20,-12,26,-18,22,-24,12,-20,28,-14,16,-26,22,-18,34,-30,28,-20,14,-24,18,-12,26,-22,20,-16,24,-28,12,-18,22,-14,28,-20,
20,-16,26,-22,12,-24,18,-28,22,-14,16,-20,28,-12,24,-26,14,-18,20,-22,38,-34,30,-24,18,-16,22,-26,12,-20,28,-14,24,-18,16,-22,20,-28,14,-24,
24,-20,14,-26,22,-18,28,-12,16,-24,20,-22,26,-14,18,-28,12,-20,24,-16,22,-26,14,-18,28,-22,30,-90,115,-60,35,-25,20,-16,24,-18,14,-22,26,-20
];
const traceRD232 = [
3,-2,3,-3,2,-3,3,-2,4,-3,2,-3,3,-2,3,-4,2,-3,3,-2,
2,-3,3,-2,3,-3,2,-4,3,-2,3,-3,2,-3,4,-2,3,-3,2,-3,
3,-3,2,-3,3,-2,4,-3,2,-3,3,-4,3,-2,3,-3,2,-3,4,-3,
2,-3,3,-4,3,-2,3,-3,2,-3,4,-3,2,-3,3,-2,3,-4,3,-2,
3,-2,4,-3,2,-3,3,-3,2,-4,3,-2,3,-3,2,-3,4,-3,2,-3,
3,-3,2,-3,4,-2,3,-3,2,-3,3,-4,2,-3,3,-2,5,-6,4,-3,
3,-4,2,-3,3,-3,2,-3,4,-2,3,-3,2,-4,3,-3,2,-3,3,-2,
4,-3,2,-3,3,-2,3,-4,2,-3,3,-3,2,-3,4,-2,3,-3,2,-3,
3,-2,3,-3,2,-4,3,-3,2,-3,3,-2,4,-3,2,-3,3,-3,2,-4,
2,-3,4,-3,2,-3,3,-2,3,-4,2,-3,3,-3,2,-3,4,-2,3,-3,
3,-4,16,-19,20,-17,15,-6,4,-5,18,-24,27,-15,6,-4,3,-2,3,-3,
2,-3,3,-3,2,-4,3,-2,3,-3,2,-3,4,-3,2,-3,3,-2,3,-4,
3,-3,2,-3,4,-2,3,-3,2,-4,3,-3,2,-3,22,-26,15,-4,3,-2,
2,-4,3,-3,2,-3,3,-2,4,-3,2,-3,3,-3,2,-4,3,-2,3,-3,
3,-2,3,-4,2,-3,3,-3,2,-3,4,-2,3,-3,2,-3,3,-4,2,-3,
4,-3,2,-3,3,-2,3,-3,2,-4,3,-3,2,-3,4,-2,3,-3,2,-3,
3,-3,2,-4,3,-3,2,-3,3,-2,4,-3,2,-3,3,-3,2,-4,3,-2,
2,-3,3,-3,2,-3,4,-2,3,-3,2,-4,3,-3,2,-3,3,-2,4,-3,
3,-2,4,-3,2,-3,3,-3,2,-4,3,-2,3,-3,2,-3,4,-3,2,-3
];
const traceRB5E8 = [
12,-16,8,-14,18,-10,15,-13,6,-17,14,-9,16,-12,10,-18,13,-7,15,-14,11,-16,17,-8,12,-15,9,-13,18,-11,14,-16,7,-12,15,-17,10,-14,13,-9,
16,-11,13,-18,9,-15,17,-10,14,-12,8,-16,15,-13,18,-9,11,-17,14,-12,16,-8,13,-15,10,-18,17,-11,12,-14,15,-16,9,-13,18,-10,14,-15,11,-17,
13,-15,17,-10,14,-18,12,-16,22,-28,35,-25,30,-60,45,-40,28,-20,18,-15,22,-16,14,-18,20,-25,45,-38,30,-22,18,-14,16,-12,15,-17,13,-11,16,-14,
14,-18,12,-15,20,-16,13,-19,17,-12,15,-20,18,-14,13,-16,19,-11,15,-17,14,-13,18,-15,12,-19,16,-14,20,-12,15,-18,13,-16,17,-20,22,-18,25,-22,
20,-30,35,-25,28,-22,18,-24,30,-20,25,-18,22,-26,20,-28,30,-55,32,-25,22,-18,20,-24,28,-15,19,-22,16,-20,24,-17,21,-15,18,-22,17,-19,20,-16,
24,-28,30,-20,26,-32,22,-25,28,-18,20,-24,18,-16,22,-19,15,-20,17,-14,19,-16,13,-18,21,-15,17,-12,16,-19,14,-17,20,-13,15,-18,12,-16,18,-14,
15,-17,13,-20,16,-12,18,-15,11,-19,14,-16,17,-10,13,-18,16,-14,12,-17,19,-13,15,-11,14,-18,17,-15,10,-16,13,-19,18,-12,15,-14,16,-17,12,-13,
17,-13,15,-18,11,-16,14,-12,19,-15,13,-17,16,-10,18,-14,12,-16,15,-19,11,-13,17,-15,14,-18,16,-12,13,-17,19,-14,10,-16,15,-13,18,-11,14,-17,
13,-16,18,-12,15,-17,11,-14,16,-19,14,-13,17,-15,12,-18,15,-11,19,-16,13,-14,16,-18,12,-15,14,-17,18,-13,22,-26,28,-32,25,-20,18,-16,14,-15,
16,-14,13,-17,15,-12,18,-16,14,-13,17,-19,12,-15,16,-18,20,-25,22,-30,28,-22,18,-35,32,-28,22,-18,16,-14,15,-17,13,-16,18,-12,14,-15,17,-13,
14,-17,16,-13,18,-15,12,-16,20,-14,17,-18,15,-22,26,-30,38,-45,55,-70,80,-65,75,-60,70,-78,62,-55,65,-48,58,-52,60,-45,50,-55,48,-42,52,-38,
45,-40,38,-48,42,-35,40,-32,36,-28,30,-34,26,-30,24,-22,28,-20,22,-25,18,-21,20,-17,16,-19,15,-14,17,-16,13,-18,15,-12,16,-14,18,-13,14,-16,
12,-15,17,-14,13,-16,15,-12,18,-15,14,-17,11,-13,16,-18,15,-14,13,-16,17,-12,14,-15,16,-17,12,-14,18,-13,15,-16,13,-18,14,-12,17,-15,16,-13,
15,-13,14,-17,16,-12,18,-15,13,-14,12,-18,17,-16,14,-13,15,-17,16,-12,13,-15,18,-14,15,-16,12,-17,14,-13,16,-15,20,-28,40,-55,60,-48,45,-50,
55,-40,35,-32,38,-28,30,-25,28,-22,26,-30,35,-24,22,-20,25,-18,20,-17,18,-22,16,-19,15,-14,17,-16,13,-18,15,-12,16,-14,18,-13,14,-16,13,-15,
16,-20,30,-22,18,-16,20,-15,17,-14,18,-25,32,-28,20,-18,16,-15,14,-17,15,-13,16,-14,18,-12,15,-17,13,-16,14,-15,17,-13,16,-14,12,-18,15,-13,
14,-16,18,-22,30,-38,45,-35,50,-42,55,-48,60,-80,80,-105,65,-45,35,-28,25,-20,18,-22,16,-18,15,-14,17,-16,13,-15,16,-12,14,-17,15,-13,16,-14,
13,-15,17,-14,16,-12,15,-18,14,-13,17,-16,12,-15,18,-14,16,-13,15,-17,14,-12,16,-15,13,-18,15,-14,17,-16,13,-15,18,-20,25,-30,35,-45,60,-75,
80,-70,55,-48,40,-35,30,-25,22,-20,18,-16,17,-14,15,-18,13,-16,16,-14,15,-12,17,-15,14,-16,13,-17,15,-14,16,-13,18,-15,14,-16,12,-17,15,-13
];
const traceHTL = [
35,-48,22,-40,52,-30,45,-55,28,-38,50,-20,42,-48,32,-45,55,-25,38,-50,30,-42,48,-35,25,-52,40,-30,55,-45,35,-22,48,-40,30,-55,42,-28,50,-38,
28,-45,50,-32,40,-52,22,-38,48,-42,35,-55,45,-25,52,-40,30,-48,42,-35,55,-28,38,-50,45,-30,25,-45,52,-38,40,-55,32,-42,48,-20,45,-50,35,-40,
50,-30,42,-48,35,-25,55,-45,28,-40,48,-52,38,-32,45,-50,30,-42,52,-38,25,-55,45,-35,40,-48,32,-28,50,-45,38,-42,55,-30,66,-57,48,-40,35,-45,
42,-52,30,-45,55,-38,40,-28,48,-50,35,-42,52,-30,45,-55,25,-40,50,-38,42,-48,32,-35,55,-45,40,-52,28,-42,48,-35,38,-50,45,-30,52,-42,35,-48,
45,-38,52,-30,40,-55,35,-45,48,-28,42,-50,30,-40,55,-35,45,-48,38,-25,50,-42,32,-52,45,-38,40,-30,55,-48,35,-42,28,-50,48,-40,42,-35,52,-45,
38,-50,42,-35,55,-45,28,-40,50,-52,35,-30,45,-48,40,-38,52,-25,42,-55,30,-45,48,-35,38,-50,45,-42,55,-28,40,-48,32,-38,50,-45,35,-52,42,-30,
52,-35,40,-48,30,-42,55,-38,45,-50,28,-45,48,-32,42,-55,38,-40,50,-28,35,-48,45,-52,40,-35,30,-45,55,-42,48,-38,35,-50,42,-30,52,-45,38,-40,
40,-45,55,-30,48,-52,35,-42,45,-38,50,-28,40,-55,32,-48,45,-35,52,-42,38,-50,42,-30,55,-45,28,-40,48,-52,40,-35,45,-48,30,-42,52,-38,45,-50,
48,-40,35,-52,45,-42,55,-38,30,-48,42,-50,38,-45,52,-30,45,-40,35,-55,48,-42,40,-35,50,-48,38,-52,45,-30,42,-45,55,-40,32,-48,40,-38,50,-42,
35,-52,48,-45,40,-38,50,-55,42,-30,45,-48,38,-42,55,-35,40,-50,48,-28,45,-52,35,-45,42,-40,52,-38,30,-48,45,-42,50,-35,40,-55,38,-45,48,-40,
50,-38,42,-55,35,-45,48,-40,52,-42,38,-50,45,-35,40,-48,55,-42,30,-45,50,-38,42,-52,45,-40,35,-48,52,-45,40,-30,48,-50,42,-38,45,-52,35,-42,
42,-48,50,-40,45,-52,38,-35,48,-45,55,-42,40,-50,35,-38,45,-48,52,-40,42,-45,38,-55,50,-35,45,-42,40,-48,52,-38,35,-45,48,-50,42,-40,55,-35,
45,-42,38,-50,52,-45,40,-38,48,-55,42,-35,50,-45,38,-48,45,-40,55,-42,35,-50,48,-38,42,-45,52,-40,38,-48,45,-52,40,-35,50,-42,48,-45,38,-50,
40,-50,48,-38,45,-42,55,-48,35,-40,50,-45,42,-52,38,-35,48,-45,40,-50,52,-38,45,-42,38,-55,48,-40,42,-45,50,-38,35,-48,45,-42,52,-50,40,-38,
52,-40,45,-48,38,-52,42,-45,50,-35,48,-42,40,-55,45,-38,35,-48,52,-45,42,-40,48,-50,38,-42,55,-45,40,-35,48,-52,42,-40,45,-48,38,-45,50,-42,
42,-48,38,-45,52,-40,45,-55,40,-42,48,-38,55,-50,42,-45,38,-48,50,-40,45,-52,42,-35,48,-45,40,-50,52,-42,38,-45,48,-40,42,-55,45,-38,50,-48,
45,-40,50,-48,42,-38,55,-45,38,-52,48,-42,40,-45,52,-38,45,-50,42,-40,48,-55,38,-45,50,-42,45,-38,52,-48,40,-45,42,-50,48,-38,45,-52,40,-42,
48,-45,42,-50,38,-42,52,-40,45,-48,40,-55,50,-60,90,-83,75,-55,48,-42,45,-50,40,-38,52,-45,42,-48,38,-40,50,-52,45,-42,40,-48,52,-38,45,-50,
40,-48,52,-42,45,-38,50,-45,42,-52,38,-40,48,-50,45,-42,55,-38,40,-48,42,-45,50,-40,38,-52,45,-42,48,-38,52,-45,40,-50,42,-48,45,-38,50,-42
];

const TRACES = [traceRD4BA, traceR0B29, traceDYA, traceS4BA9, traceR6C10, traceR7FA5, traceSDF0E,
  traceCCA1, traceRCB92, traceRAD67, traceRA2AC, traceR92ED, traceRD232, traceRB5E8, traceHTL];

const FONT = { family: "'DejaVu Sans', sans-serif", size: 13.3 };
const NP = STATIONS.length;

const PHASES = [
  { name: "P",   times: P_TIME,   color: "rgba(31,119,180,0.5)" },
  { name: "pP",  times: pP_TIME,  color: "rgba(255,127,14,0.55)" },
  { name: "PcP", times: PcP_TIME, color: "rgba(31,119,180,0.2)" },
  { name: "PP",  times: PP_TIME,  color: "rgba(148,103,189,0.65)" }
];

function tickLabel(i, v) {
  if (v > 0) return TICK_TOP[i];
  if (v < 0) return "-" + TICK_TOP[i];
  return "0.0e+00";
}

const datasets = TRACES.map((tr, i) => ({
  label: STATIONS[i],
  data: tr.map((v, k) => ({ x: T_START + k * TRACE_STEP[i], y: v })),
  yAxisID: "y" + i,
  borderColor: "#1f77b4",
  borderWidth: 1,
  pointRadius: 0,
  tension: 0,
  fill: false
}));

const scales = {
  x: {
    type: "linear", position: "bottom", min: 640, max: 1016.9,
    grid: { display: false, drawTicks: false }, border: { display: false },
    ticks: { color: "#000", font: FONT, padding: 4, maxRotation: 0, callback: v => String(v) },
    afterBuildTicks: s => { s.ticks = X_TICKS.map(v => ({ value: v })); },
    afterFit: s => { s.height = 88; }
  }
};
STATIONS.forEach((name, i) => {
  scales["y" + i] = {
    type: "linear", position: "left", stack: "traces", stackWeight: 1, weight: NP - i,
    min: -Y_LIMIT[i] * 100, max: Y_LIMIT[i] * 100,
    grid: { display: false, drawTicks: false }, border: { display: false },
    ticks: { color: "#000", font: FONT, padding: 5, autoSkip: false, callback: v => tickLabel(i, v) },
    afterBuildTicks: s => { s.ticks = [{ value: -100 }, { value: 0 }, { value: 100 }]; },
    afterFit: s => { s.width = 152; }
  };
});

// frames, inward ticks, arrival markers and station names
const panelDecor = {
  id: "panelDecor",
  afterDatasetsDraw(chart) {
    const ctx = chart.ctx, xs = chart.scales.x, area = chart.chartArea;
    const L = area.left, R = area.right, TL = 4.5;
    for (let i = 0; i < NP; i++) {
      const ys = chart.scales["y" + i];
      const top = ys.top, bottom = ys.bottom;
      ctx.save();
      ctx.font = "13.3px 'DejaVu Sans', sans-serif";
      PHASES.forEach(ph => {
        const x = xs.getPixelForValue(ph.times[i]);
        ctx.strokeStyle = ph.color;
        ctx.lineWidth = 2;
        ctx.setLineDash([7, 3]);
        ctx.beginPath(); ctx.moveTo(x, top); ctx.lineTo(x, bottom); ctx.stroke();
        ctx.setLineDash([]);
        ctx.fillStyle = ph.color;
        ctx.textAlign = "right";
        ctx.textBaseline = "alphabetic";
        ctx.fillText(ph.name, x - 3, bottom - 3);
      });
      ctx.fillStyle = "#000";
      ctx.textAlign = "left";
      ctx.textBaseline = "top";
      ctx.fillText(STATIONS[i], L + 17, top + 2);

      ctx.strokeStyle = "#000";
      ctx.lineWidth = 1.5;
      ctx.strokeRect(L, top, R - L, bottom - top);
      ctx.lineWidth = 1;
      ctx.beginPath();
      [-100, 0, 100].forEach(v => {
        const y = ys.getPixelForValue(v);
        ctx.moveTo(L, y); ctx.lineTo(L + TL, y);
        ctx.moveTo(R, y); ctx.lineTo(R - TL, y);
      });
      X_TICKS.forEach(v => {
        const x = xs.getPixelForValue(v);
        ctx.moveTo(x, top); ctx.lineTo(x, top + TL);
        ctx.moveTo(x, bottom); ctx.lineTo(x, bottom - TL);
      });
      ctx.stroke();
      ctx.restore();
    }
  }
};

new Chart(document.getElementById("seis"), {
  type: "line",
  data: { datasets },
  options: {
    responsive: false,
    animation: false,
    parsing: false,
    normalized: true,
    layout: { padding: { left: 0, right: 76, top: 88, bottom: 0 } },
    plugins: { legend: { display: false }, tooltip: { enabled: false }, title: { display: false } },
    scales
  },
  plugins: [panelDecor]
});
</script>
</body>
</html>
